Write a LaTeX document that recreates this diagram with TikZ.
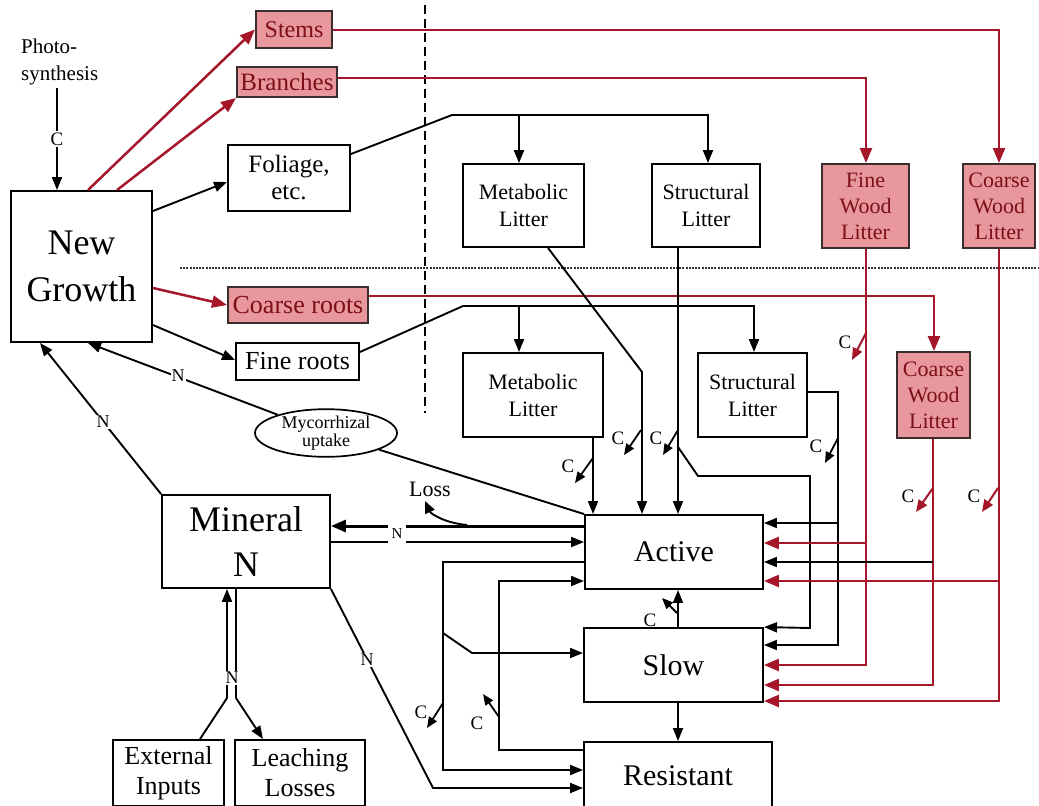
\documentclass[tikz,border=0pt]{standalone}
\usepackage{fontspec}
\setmainfont{Liberation Serif}
\usetikzlibrary{arrows.meta,shapes.geometric}
\definecolor{redln}{RGB}{165,22,42}
\definecolor{pinkfill}{RGB}{232,152,156}
\definecolor{redtxt}{RGB}{125,15,25}
\definecolor{redbd}{RGB}{60,45,45}
\newcommand\fsz[2]{\fontsize{#1}{#2}\selectfont}
\begin{document}
\begin{tikzpicture}[x=1pt,y=-1pt,
  box/.style={draw, line width=1.9pt, inner sep=0pt, align=center, fill=white},
  rbox/.style={draw=redbd, line width=2pt, inner sep=0pt, align=center, fill=pinkfill, text=redtxt},
  conn/.style={line width=1.9pt, -{Triangle[length=13pt,width=10pt]}},
  plain/.style={line width=1.9pt},
  rconn/.style={draw=redln, line width=2.5pt, color=redln, -{Triangle[length=15pt,width=12pt]}},
  cmark/.style={line width=1.8pt, -{Triangle[length=11pt,width=9pt]}},
  rcmark/.style={line width=2pt, color=redln, -{Triangle[length=12pt,width=10pt]}},
  clab/.style={font=\fsz{19}{19}, inner sep=0pt},
  nlab/.style={font=\fsz{18}{18}, inner sep=1pt, fill=white},
]
\useasboundingbox (0,0) rectangle (1039,806);
\fill[white] (0,0) rectangle (1039,806);

% dividers
\draw[line width=2.4pt, dash pattern=on 9pt off 5pt] (425,5) -- (425,413);
\draw[line width=2pt, black!80, dash pattern=on 2pt off 1.2pt] (180,268) -- (1039,268);

% nodes
\node[box, minimum width=141pt, minimum height=151pt, font=\fsz{36}{47}] (newgrowth) at (81.5,266.5) {New\\Growth};
\node[align=left, anchor=west, inner sep=0pt, font=\fsz{21}{27}] (photo) at (21,62) {Photo-\\synthesis};
\node[rbox, minimum width=76pt, minimum height=37pt, font=\fsz{24}{24}] (stems) at (294,29.5) {Stems};
\node[rbox, minimum width=100pt, minimum height=30pt, font=\fsz{25}{25}] (branches) at (287,82) {Branches};
\node[box, minimum width=122pt, minimum height=66pt, font=\fsz{25}{27}] (foliage) at (289,178) {Foliage,\\etc.};
\node[rbox, minimum width=140pt, minimum height=36pt, font=\fsz{26}{26}] (coarseroots) at (298,305) {Coarse roots};
\node[box, minimum width=123pt, minimum height=37pt, font=\fsz{26}{26}] (fineroots) at (297.5,361.5) {Fine roots};

\node[box, minimum width=121pt, minimum height=83pt, font=\fsz{22}{27}] (metab1) at (523.5,205.5) {Metabolic\\Litter};
\node[box, minimum width=108pt, minimum height=83pt, font=\fsz{22}{27}] (struct1) at (706,205.5) {Structural\\Litter};
\node[rbox, minimum width=87pt, minimum height=84pt, font=\fsz{22}{26}] (finewood) at (865.5,206) {Fine\\Wood\\Litter};
\node[rbox, minimum width=72pt, minimum height=84pt, font=\fsz{22}{26}] (coarsewood1) at (999,206) {Coarse\\Wood\\Litter};
\node[box, minimum width=140pt, minimum height=84pt, font=\fsz{22}{27}] (metab2) at (533,395) {Metabolic\\Litter};
\node[box, minimum width=109pt, minimum height=84pt, font=\fsz{22}{27}] (struct2) at (752.5,395) {Structural\\Litter};
\node[rbox, minimum width=73pt, minimum height=86pt, font=\fsz{22}{26}] (coarsewood2) at (933.5,395) {Coarse\\Wood\\Litter};

\node[box, minimum width=178pt, minimum height=74pt, font=\fsz{30}{30}] (active) at (674,552) {Active};
\node[box, minimum width=179pt, minimum height=74pt, font=\fsz{30}{30}] (slow) at (673.5,665) {Slow};
\node[box, minimum width=188pt, minimum height=68pt, font=\fsz{30}{30}] (resistant) at (678,776) {Resistant};
\node[box, minimum width=168pt, minimum height=93pt, font=\fsz{36}{45}] (mineral) at (246,541.5) {Mineral\\N};
\node[box, minimum width=111pt, minimum height=66pt, font=\fsz{26}{30}] (external) at (168.5,773) {External\\Inputs};
\node[box, minimum width=130pt, minimum height=66pt, font=\fsz{26}{30}] (leaching) at (300,773) {Leaching\\Losses};
\node[draw, ellipse, line width=1.7pt, minimum width=142pt, minimum height=46pt, inner sep=0pt, align=center, font=\fsz{18}{16}] (myco) at (326,433) {Mycorrhizal\\uptake};
\node[font=\fsz{22}{22}, inner sep=0pt] (loss) at (430,489) {Loss};

% photosynthesis
\draw[conn] (57,88) -- (newgrowth.north -| 57,0) node[midway, clab, fill=white, inner sep=2pt] (cphoto) {C};

% allocation
\draw[rconn] (newgrowth.north -| 88,0) -- (stems.west);
\draw[rconn] (newgrowth.north -| 117,0) -- (branches.south west);
\draw[conn] (newgrowth.east |- 0,211) -- (foliage.west |- 0,182);
\draw[rconn] (newgrowth.east |- 0,288) -- (coarseroots.west);
\draw[conn] (newgrowth.east |- 0,325) -- (fineroots.west |- 0,360);

% foliage / fine roots to litter
\draw[conn] (foliage.east |- 0,154) -- (452,115) -- (708,115) -- (struct1.north -| 708,0);
\draw[conn] (519,115) -- (metab1.north -| 519,0);
\draw[conn] (fineroots.east |- 0,352) -- (463,306) -- (754,306) -- (struct2.north -| 754,0);
\draw[conn] (519,306) -- (metab2.north -| 519,0);

% wood
\draw[rconn] (stems.east |- 0,30) -- (999,30) -- (coarsewood1.north);
\draw[rconn] (branches.east |- 0,78) -- (866,78) -- (finewood.north -| 866,0);
\draw[rconn] (coarseroots.east |- 0,296) -- (934,296) -- (coarsewood2.north -| 934,0);

% litter to SOM
\draw[conn] (metab1.south -| 548,0) -- (642,372) -- (active.north -| 642,0);
\draw[conn] (struct1.south -| 678,0) -- (active.north -| 678,0);
\draw[conn] (678,447) -- (698,476) -- (810,476) -- (810,628) -- (slow.north east);
\draw[conn] (metab2.south -| 593,0) -- (active.north -| 593,0);
\draw[conn] (struct2.east |- 0,392) -- (838,392) -- (838,645) -- (slow.east |- 0,645);
\draw[conn] (838,523) -- (active.east |- 0,523);
\draw[rconn] (finewood.south -| 866,0) -- (866,665) -- (slow.east |- 0,665);
\draw[rconn] (866,543) -- (active.east |- 0,543);
\draw[rconn] (coarsewood2.south -| 933,0) -- (933,685) -- (slow.east |- 0,685);
\draw[conn] (933,562) -- (active.east |- 0,562);
\draw[rconn] (coarsewood1.south -| 999,0) -- (999,701) -- (slow.east |- 0,701);
\draw[rconn] (999,581) -- (active.east |- 0,581);

% SOM internal
\draw[conn] (slow.north -| 678,0) -- (active.south -| 678,0);
\draw[conn] (slow.south -| 678,0) -- (resistant.north -| 678,0);
\draw[conn] (active.west |- 0,562) -- (443,562) -- (443,770) -- (resistant.west |- 0,770);
\draw[conn] (443,633) -- (472,653) -- (slow.west |- 0,653);
\draw[conn] (resistant.west |- 0,750) -- (499,750) -- (499,581) -- (active.west |- 0,581);

% mineral N exchanges
\draw[line width=3pt, -{Triangle[length=15pt,width=12pt]}] (active.west |- 0,526) -- (mineral.east |- 0,526);
\draw[line width=1.9pt, -{Triangle[length=12pt,width=10pt]}] (467,525) .. controls (445,523) and (431,514) .. (425,501);
\draw[conn] (mineral.east |- 0,542) -- (active.west |- 0,542);
\node[nlab, font=\fsz{15}{15}, minimum width=18pt, minimum height=26pt] (n1) at (397,534) {N};
\draw[conn] (mineral.south east) -- (433,788) -- (resistant.west |- 0,788);
\node[nlab] (n2) at (367,660) {N};

% mycorrhizal
\draw[plain] (myco) -- (active.north west);
\draw[conn] (myco) -- (newgrowth.south -| 88,0);
\node[nlab] (n3) at (178,376) {N};
\draw[conn] (mineral.north west) -- (newgrowth.south -| 40,0);
\node[nlab] (n4) at (103,422) {N};

% external / leaching
\draw[conn] (external.north -| 200,0) -- (227,698) -- (mineral.south -| 227,0);
\draw[conn] (mineral.south -| 236,0) -- (236,698) -- (leaching.north -| 263,0);
\node[nlab] (n5) at (232,678) {N};

% C respiration marks
\draw[cmark] (593,458) -- (575,483); \node[clab] (c1) at (568,466) {C};
\draw[cmark] (641,430) -- (624,455); \node[clab] (c2) at (618,438) {C};
\draw[cmark] (678,430) -- (663,455); \node[clab] (c3) at (656,438) {C};
\draw[cmark] (838,438) -- (825,463); \node[clab] (c4) at (816,446) {C};
\draw[rcmark] (866,333) -- (852,360); \node[clab] (c5) at (845,342) {C};
\draw[rcmark] (933,488) -- (916,512); \node[clab] (c6) at (908,496) {C};
\draw[rcmark] (998,488) -- (982,512); \node[clab] (c7) at (974,496) {C};
\draw[cmark] (677,613) -- (662,598); \node[clab] (c8) at (650,620) {C};
\draw[cmark] (443,703) -- (427,728); \node[clab] (c9) at (421,712) {C};
\draw[cmark] (499,717) -- (483,694); \node[clab] (c10) at (477,723) {C};
\end{tikzpicture}
\end{document}
